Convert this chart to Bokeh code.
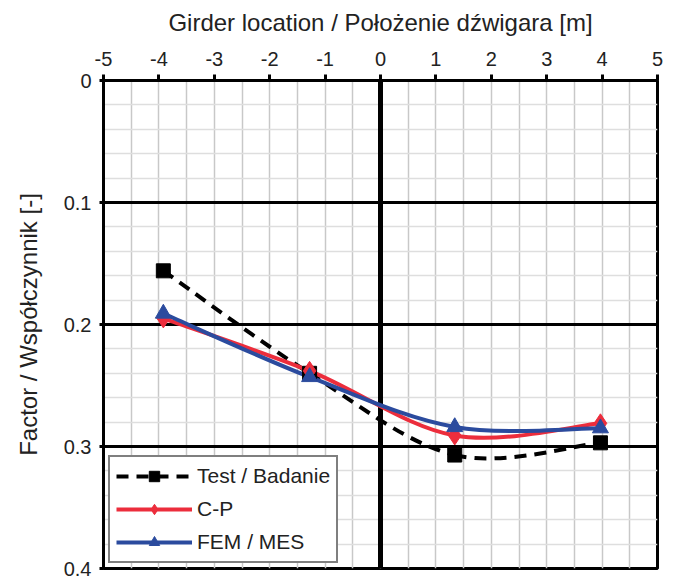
import numpy as np
from bokeh.plotting import figure
from bokeh.models import Range1d, FixedTicker, Span, Legend, LegendItem, ColumnDataSource
from bokeh.embed import file_html
from bokeh.resources import INLINE

# ---- data ----
girder_x = [-3.92, -1.28, 1.34, 3.97]
test_y = [0.156, 0.240, 0.307, 0.297]
cp_y = [0.195, 0.238, 0.291, 0.281]
fem_y = [0.191, 0.243, 0.284, 0.285]

x_ticks = [-5, -4, -3, -2, -1, 0, 1, 2, 3, 4, 5]
x_labels = ["-5", "-4", "-3", "-2", "-1", "0", "1", "2", "3", "4", "5"]
x_minor = [-4.5, -3.5, -2.5, -1.5, -0.5, 0.5, 1.5, 2.5, 3.5, 4.5]
y_ticks = [0, 0.1, 0.2, 0.3, 0.4]
y_labels = ["0", "0.1", "0.2", "0.3", "0.4"]
y_minor = [0.02, 0.04, 0.06, 0.08, 0.12, 0.14, 0.16, 0.18, 0.22, 0.24, 0.26, 0.28,
           0.32, 0.34, 0.36, 0.38]

x_title = "Girder location / Położenie dźwigara [m]"
y_title = "Factor / Współczynnik [-]"
names = ["Test / Badanie", "C-P", "FEM / MES"]

FONT = "Liberation Sans"
RED = "#ec2d3c"
BLUE = "#2b4b9e"
DASH = "12 8"
LW = 4


def smooth_segments(xs, ys):
    """Excel-like smoothing: cubic Bezier segments (Catmull-Rom, tension 1/6)."""
    x = np.asarray(xs, float)
    y = np.asarray(ys, float)
    n = len(x)
    px = np.concatenate([[x[0]], x, [x[-1]]])
    py = np.concatenate([[y[0]], y, [y[-1]]])
    seg = dict(x0=[], y0=[], x1=[], y1=[], cx0=[], cy0=[], cx1=[], cy1=[])
    for i in range(n - 1):
        a, b = i + 1, i + 2
        seg["x0"].append(px[a]); seg["y0"].append(py[a])
        seg["x1"].append(px[b]); seg["y1"].append(py[b])
        seg["cx0"].append(px[a] + (px[b] - px[a - 1]) / 6)
        seg["cy0"].append(py[a] + (py[b] - py[a - 1]) / 6)
        seg["cx1"].append(px[b] - (px[b + 1] - px[a]) / 6)
        seg["cy1"].append(py[b] - (py[b + 1] - py[a]) / 6)
    return ColumnDataSource(seg)


p = figure(width=667, height=578, output_backend="svg", toolbar_location=None,
           x_range=Range1d(-5, 5), y_range=Range1d(0.4, 0),
           x_axis_location="above",
           min_border_left=103, min_border_top=80, min_border_right=10, min_border_bottom=10)
p.background_fill_color = "white"
p.border_fill_color = "white"
p.outline_line_color = "black"
p.outline_line_width = 3

# axes
xa = p.xaxis[0]
xa.ticker = FixedTicker(ticks=x_ticks, minor_ticks=x_minor)
xa.major_label_overrides = dict(zip(x_ticks, x_labels))
xa.axis_label = x_title
ya = p.yaxis[0]
ya.ticker = FixedTicker(ticks=y_ticks, minor_ticks=y_minor)
ya.major_label_overrides = dict(zip(y_ticks, y_labels))
ya.axis_label = y_title
for ax in (xa, ya):
    ax.axis_line_color = "black"
    ax.axis_line_width = 3
    ax.major_tick_line_color = "black"
    ax.major_tick_line_width = 3
    ax.major_tick_out = 6
    ax.major_tick_in = 0
    ax.minor_tick_line_color = None
    ax.major_label_text_font = FONT
    ax.major_label_text_font_size = "20px"
    ax.major_label_text_color = "#222222"
    ax.axis_label_text_font = FONT
    ax.axis_label_text_font_size = "24px"
    ax.axis_label_text_font_style = "normal"
    ax.axis_label_text_color = "#222222"
xa.major_label_standoff = 9
xa.axis_label_standoff = 13
ya.major_tick_out = 4
ya.major_label_standoff = 8
ya.axis_label_standoff = 19

# grids
p.xgrid.ticker = FixedTicker(ticks=x_ticks, minor_ticks=x_minor)
p.xgrid.grid_line_color = "#c8c8c8"
p.xgrid.grid_line_width = 1.5
p.xgrid.minor_grid_line_color = "#c8c8c8"
p.xgrid.minor_grid_line_width = 1.5
p.ygrid.ticker = FixedTicker(ticks=y_ticks, minor_ticks=y_minor)
p.ygrid.grid_line_color = "black"
p.ygrid.grid_line_width = 3
p.ygrid.minor_grid_line_color = "#dedede"
p.ygrid.minor_grid_line_width = 1.5
p.ygrid.level = "underlay"
p.xgrid.level = "image"

p.add_layout(Span(location=0, dimension="height", line_color="black", line_width=5,
                  level="underlay"))

# curves
for ys, col, dash in ((test_y, "black", DASH), (cp_y, RED, "solid"), (fem_y, BLUE, "solid")):
    p.bezier(x0="x0", y0="y0", x1="x1", y1="y1", cx0="cx0", cy0="cy0", cx1="cx1", cy1="cy1",
             source=smooth_segments(girder_x, ys), line_color=col, line_width=LW,
             line_dash=dash)

s_test = p.scatter(girder_x, test_y, marker="square", size=14, color="black")
s_cp = p.scatter(girder_x, cp_y, marker="diamond", size=19, color=RED)
s_fem = p.scatter(girder_x, fem_y, marker="triangle", size=16, color=BLUE)

# legend line swatches (a single NaN point: nothing drawn in the plot area)
nan = np.array([np.nan])
l_test = p.line(nan, nan, line_color="black", line_width=LW, line_dash=DASH)
l_cp = p.line(nan, nan, line_color=RED, line_width=LW)
l_fem = p.line(nan, nan, line_color=BLUE, line_width=LW)

legend = Legend(items=[
    LegendItem(label=names[0], renderers=[l_test, s_test]),
    LegendItem(label=names[1], renderers=[l_cp, s_cp]),
    LegendItem(label=names[2], renderers=[l_fem, s_fem]),
], location="bottom_left")
legend.label_text_font = FONT
legend.label_text_font_size = "21px"
legend.label_text_color = "#222222"
legend.glyph_width = 76
legend.glyph_height = 26
legend.label_height = 24
legend.spacing = 7
legend.padding = 6
legend.margin = 5
legend.label_standoff = 5
legend.border_line_color = "black"
legend.border_line_width = 2
legend.background_fill_color = "white"
legend.background_fill_alpha = 1
p.add_layout(legend)

open("out.html", "w").write(file_html(p, INLINE))
